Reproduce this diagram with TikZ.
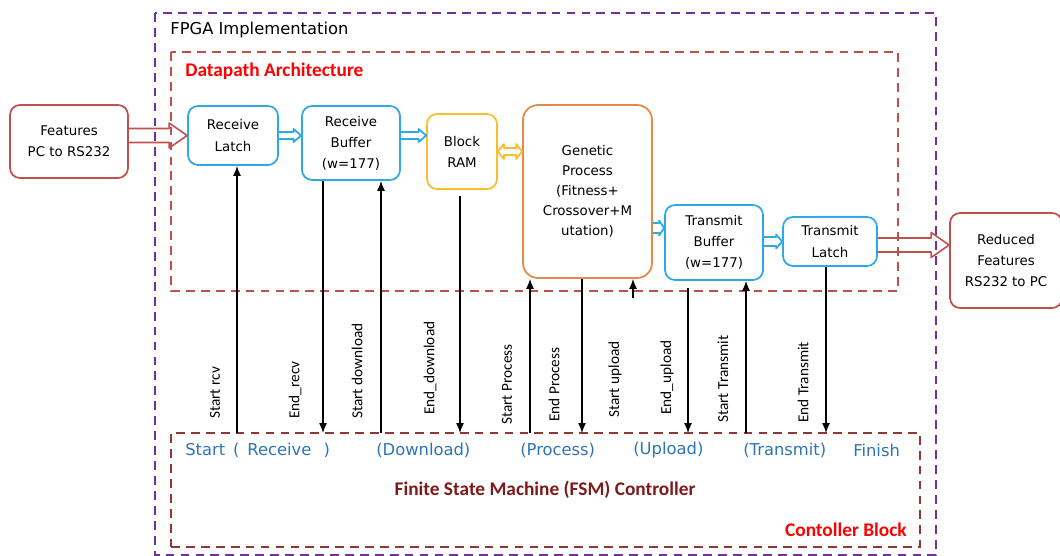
\documentclass[tikz,border=0pt]{standalone}
\usepackage{fontspec}
\setmainfont{DejaVu Sans}
\newfontfamily\carlito{Carlito}
\usetikzlibrary{arrows.meta,calc}

\definecolor{fpgapurple}{HTML}{7030A0}
\definecolor{pathred}{HTML}{C0504D}
\definecolor{ctrlbrown}{HTML}{943634}
\definecolor{latchblue}{HTML}{2FA8E4}
\definecolor{ramyellow}{HTML}{F8BE2C}
\definecolor{genorange}{HTML}{E3894A}
\definecolor{stateblue}{HTML}{2E74B5}
\definecolor{fsmred}{HTML}{7F1A1A}

% hollow block arrow: [style]{from}{to}{shaft half}{head half}{head length}
\newcommand{\hollowarrow}[6][]{%
  \draw[#1] ($(#2)+(0,#4)$) -- ($(#3)+(-#6,#4)$) -- ($(#3)+(-#6,#5)$) -- (#3)
    -- ($(#3)+(-#6,-#5)$) -- ($(#3)+(-#6,-#4)$) -- ($(#2)+(0,-#4)$);}
% same with a head at both ends
\newcommand{\hollowdarrow}[6][]{%
  \draw[#1] (#2) -- ($(#2)+(#6,#5)$) -- ($(#2)+(#6,#4)$) -- ($(#3)+(-#6,#4)$)
    -- ($(#3)+(-#6,#5)$) -- (#3) -- ($(#3)+(-#6,-#5)$) -- ($(#3)+(-#6,-#4)$)
    -- ($(#2)+(#6,-#4)$) -- ($(#2)+(#6,-#5)$) -- cycle;}

\begin{document}
\begin{tikzpicture}[
    block/.style={rectangle, rounded corners=2mm, draw, line width=1pt, align=center,
        inner sep=0pt, font=\fontsize{7.6}{12}\selectfont},
    frame/.style={draw, dash pattern=on 5pt off 3.5pt, line width=1.1pt},
    signal/.style={->, >={Latex[length=2mm,width=1.6mm]}, line width=0.75pt},
    siglabel/.style={rotate=90, anchor=west, inner sep=0pt, font=\carlito\fontsize{8.7}{10}\selectfont},
    state/.style={anchor=west, inner sep=0pt, text=stateblue, font=\fontsize{9.3}{11}\selectfont},
    title/.style={anchor=west, inner sep=0pt, text=red, font=\carlito\bfseries\fontsize{11}{13}\selectfont},
    fat/.style={draw=pathred, line width=0.9pt, line join=round},
    thin/.style={draw=latchblue, line width=1pt, line join=round}
]
    \useasboundingbox (0,0) rectangle (21.2,-11.12);

    % frames
    \draw[frame, fpgapurple, line width=1.4pt] (3.1,-0.26) rectangle (18.72,-11.1);
    \draw[frame, pathred] (3.42,-1.04) rectangle (17.96,-5.82);
    \node[frame, ctrlbrown, minimum width=14.98cm, minimum height=2.28cm, inner sep=0pt] (ctrl) at (10.91,-9.8) {};

    \node[anchor=west, inner sep=0pt, font=\fontsize{9.3}{11}\selectfont] (fpga) at (3.4,-0.6) {FPGA Implementation};
    \node[title] (dptitle) at (3.7,-1.42) {Datapath Architecture};
    \node[title, anchor=east] (ctrltitle) at (18.14,-10.6) {Contoller Block};
    \node[inner sep=0pt, text=fsmred, font=\carlito\bfseries\fontsize{11}{13}\selectfont] (fsm) at (10.9,-9.8) {Finite State Machine (FSM) Controller};

    % datapath blocks
    \node[block, draw=pathred, minimum width=2.36cm, minimum height=1.46cm] (feat) at (1.38,-2.83) {Features\\PC to RS232};
    \node[block, draw=latchblue, minimum width=1.8cm, minimum height=1.18cm] (rlatch) at (4.66,-2.71) {Receive\\Latch};
    \node[block, draw=latchblue, minimum width=1.96cm, minimum height=1.48cm] (rbuf) at (7.02,-2.86) {Receive\\Buffer\\(w=177)};
    \node[block, draw=ramyellow, minimum width=1.4cm, minimum height=1.5cm] (bram) at (9.24,-3.03) {Block\\RAM};
    \node[block, draw=genorange, rounded corners=3mm, minimum width=2.58cm, minimum height=3.46cm,
        font=\fontsize{7.6}{11.4}\selectfont] (gen) at (11.75,-3.83) {Genetic\\Process\\(Fitness+\\Crossover+M\\utation)};
    \node[block, draw=latchblue, minimum width=1.96cm, minimum height=1.5cm] (tbuf) at (14.28,-4.85) {Transmit\\Buffer\\(w=177)};
    \node[block, draw=latchblue, minimum width=1.88cm, minimum height=0.98cm] (tlatch) at (16.6,-4.83) {Transmit\\Latch};
    \node[block, draw=pathred, minimum width=2.24cm, minimum height=1.9cm] (redf) at (20.12,-5.21) {Reduced\\Features\\RS232 to PC};

    % data flow
    \hollowarrow[fat]{feat.east |- rlatch.west}{rlatch.west}{0.14}{0.25}{0.36}
    \hollowarrow[thin]{rlatch.east}{rlatch.east -| rbuf.west}{0.07}{0.13}{0.15}
    \hollowarrow[thin]{rlatch.east -| rbuf.east}{rlatch.east -| bram.west}{0.07}{0.13}{0.15}
    \hollowdarrow[thin, draw=ramyellow]{bram.east}{bram.east -| gen.west}{0.07}{0.15}{0.12}
    \coordinate (ygt) at (0,-4.56);
    \hollowarrow[thin]{gen.east |- ygt}{tbuf.west |- ygt}{0.1}{0.15}{0.1}
    \hollowarrow[thin]{tbuf.east |- tlatch.west}{tlatch.west}{0.09}{0.14}{0.12}
    \coordinate (yout) at (0,-4.9);
    \hollowarrow[fat]{tlatch.east |- yout}{redf.west |- yout}{0.14}{0.25}{0.36}

    % control signals
    \coordinate (startRcv) at (4.74,-8.66);
    \coordinate (endRcv) at (6.46,-8.66);
    \coordinate (startDl) at (7.62,-8.66);
    \coordinate (endDl) at (9.2,-8.66);
    \coordinate (startPr) at (10.6,-8.66);
    \coordinate (endPr) at (11.64,-8.66);
    \coordinate (startUp) at (12.66,-5.96);
    \coordinate (endUp) at (13.76,-8.66);
    \coordinate (startTx) at (14.92,-8.66);
    \coordinate (endTx) at (16.52,-8.66);

    \draw[signal] (startRcv) -- (startRcv |- rlatch.south);
    \draw[signal] (endRcv |- rbuf.south) -- (endRcv);
    \draw[signal] (startDl) -- (startDl |- rbuf.south);
    \draw[signal, shorten <=1.2mm] (endDl |- bram.south) -- (endDl);
    \draw[signal] (startPr) -- (startPr |- gen.south);
    \draw[signal] (endPr |- gen.south) -- (endPr);
    \draw[signal] (startUp) -- (startUp |- gen.south);
    \draw[signal, shorten <=1.4mm] (endUp |- tbuf.south) -- (endUp);
    \draw[signal] (startTx) -- (startTx |- tbuf.south);
    \draw[signal] (endTx |- tlatch.south) -- (endTx);

    \node[siglabel] (lStartRcv) at (4.3,-8.38) {Start rcv};
    \node[siglabel] (lEndRcv) at (5.9,-8.38) {End\_recv};
    \node[siglabel] (lStartDl) at (7.14,-8.38) {Start download};
    \node[siglabel] (lEndDl) at (8.6,-8.3) {End\_download};
    \node[siglabel] (lStartPr) at (10.14,-8.5) {Start Process};
    \node[siglabel] (lEndPr) at (11.08,-8.44) {End Process};
    \node[siglabel] (lStartUp) at (12.3,-8.36) {Start upload};
    \node[siglabel] (lEndUp) at (13.34,-8.3) {End\_upload};
    \node[siglabel] (lStartTx) at (14.46,-8.46) {Start Transmit};
    \node[siglabel] (lEndTx) at (16.06,-8.46) {End Transmit};

    % states
    \node[state] (sRcv) at (3.7,-9.0) {Start\hspace{4.5pt}(\hspace{4.5pt}Receive\hspace{7pt})};
    \node[state] (sDl) at (7.52,-9.0) {(Download)};
    \node[state] (sPr) at (10.4,-9.0) {(Process)};
    \node[state] (sUp) at (12.66,-9.0) {(Upload)};
    \node[state] (sTx) at (14.86,-9.0) {(Transmit)};
    \node[state] (sFin) at (17.06,-9.0) {Finish};
\end{tikzpicture}
\end{document}
